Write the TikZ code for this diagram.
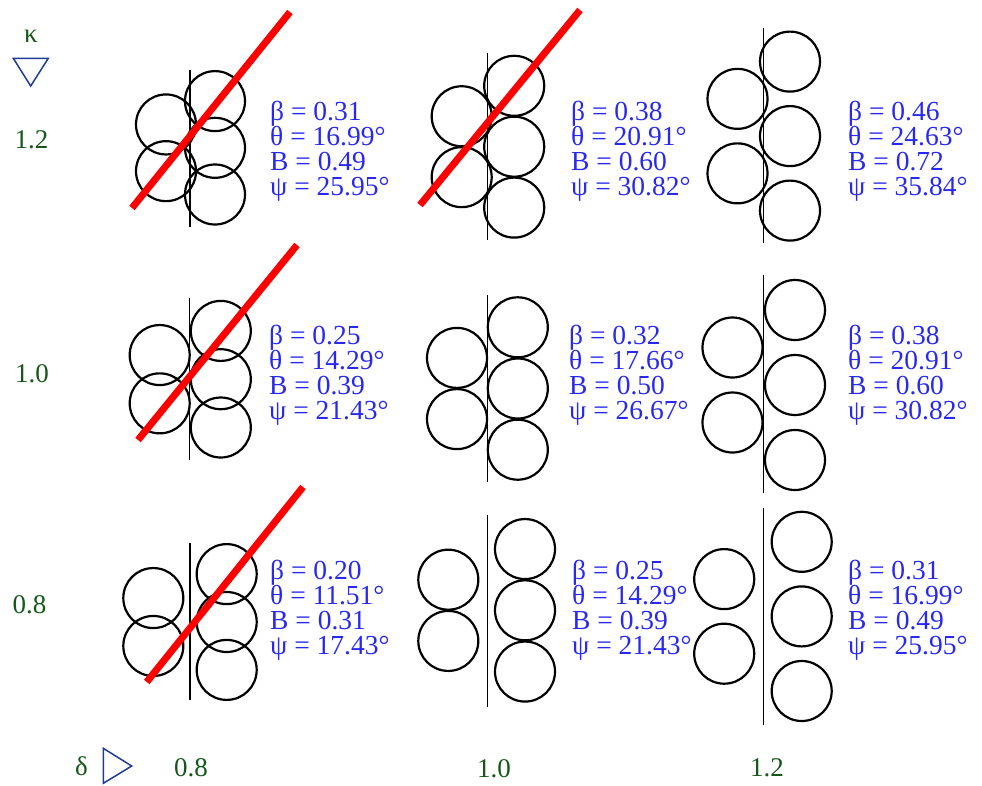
\documentclass[tikz,border=0pt]{standalone}
\usepackage{fontspec}
\setmainfont{Liberation Serif}
\definecolor{lblgreen}{RGB}{22,88,26}
\definecolor{infoblue}{RGB}{40,40,240}
\definecolor{trinavy}{RGB}{30,60,150}
\tikzset{
  ball/.style={draw=black,line width=2.2pt},
  wall/.style={draw=black,line width=1.4pt},
  cut/.style={draw=red,line width=7pt},
  info/.style={text=infoblue,inner sep=0pt,anchor=base west,font=\fontsize{27.5}{27.5}\selectfont},
  lbl/.style={text=lblgreen,inner sep=0pt,anchor=base,font=\fontsize{27}{27}\selectfont},
  tri/.style={draw=trinavy,line width=1.5pt,line join=miter},
}
\newcommand\cellpack[7]{%
  \draw[wall] (#1,#6) -- (#1,#7);
  \foreach \k in {-1,0,1} \draw[ball] (#5,{#2+(\k)*#3}) circle[radius=30pt];
  \foreach \k in {-0.5,0.5} \draw[ball] (#4,{#2+(\k)*#3}) circle[radius=30pt];
}
\newcommand\cellinfo[7]{%
  \node[info] (#1b) at (#2,#3) {β = #4};
  \node[info] (#1t) at (#2,#3+25.3) {θ = #5°};
  \node[info] (#1B) at (#2,#3+50.6) {B = #6};
  \node[info] (#1p) at (#2,#3+75.9) {ψ = #7°};
}
\begin{document}
\begin{tikzpicture}[x=1pt,y=-1pt]
\useasboundingbox (0,0) rectangle (982,785);
% row kappa = 1.2
\cellpack{190}{147.8}{46.7}{166}{215}{70}{227}
\cellpack{487.3}{146.7}{60.9}{461.7}{514.2}{53}{240}
\cellpack{763.3}{136.1}{74.5}{737.5}{790}{28}{243}
% row kappa = 1.0
\cellpack{189.3}{379.2}{48.3}{159.7}{220.8}{298}{460}
\cellpack{487.3}{388.5}{61.2}{457}{517.8}{295}{482}
\cellpack{763.3}{385}{75}{732.5}{795}{275}{493}
% row kappa = 0.8
\cellpack{190}{622}{47.9}{153.3}{226.7}{543}{700}
\cellpack{487.3}{610.3}{61.25}{448.3}{525}{515}{707}
\cellpack{763.3}{616.4}{74.6}{724.2}{801.7}{508}{725}
% red cut lines
\draw[cut] (132,208) -- (290,12);
\draw[cut] (420,205) -- (580,10);
\draw[cut] (138,440) -- (297,245);
\draw[cut] (146.7,682) -- (303,487);
% info texts
\cellinfo{a}{270}{120}{0.31}{16.99}{0.49}{25.95}
\cellinfo{b}{571}{120}{0.38}{20.91}{0.60}{30.82}
\cellinfo{c}{848}{120}{0.46}{24.63}{0.72}{35.84}
\cellinfo{d}{269}{344}{0.25}{14.29}{0.39}{21.43}
\cellinfo{e}{569}{344}{0.32}{17.66}{0.50}{26.67}
\cellinfo{f}{848}{344}{0.38}{20.91}{0.60}{30.82}
\cellinfo{g}{270}{579}{0.20}{11.51}{0.31}{17.43}
\cellinfo{h}{572}{579}{0.25}{14.29}{0.39}{21.43}
\cellinfo{i}{848}{579}{0.31}{16.99}{0.49}{25.95}
% axis labels
\node[lbl] (kappa) at (31,42) {κ};
\draw[tri] (13.3,58.3) -- (48.3,58.3) -- (30.7,86) -- cycle;
\node[lbl] (k12) at (31.5,148) {1.2};
\node[lbl] (k10) at (32,382) {1.0};
\node[lbl] (k08) at (29.5,613) {0.8};
\node[lbl] (delta) at (81.5,775) {δ};
\draw[tri] (103.3,748.3) -- (131.7,766) -- (103.3,783.3) -- cycle;
\node[lbl] (d08) at (191,776) {0.8};
\node[lbl] (d10) at (494,777) {1.0};
\node[lbl] (d12) at (767,776) {1.2};
\end{tikzpicture}
\end{document}
